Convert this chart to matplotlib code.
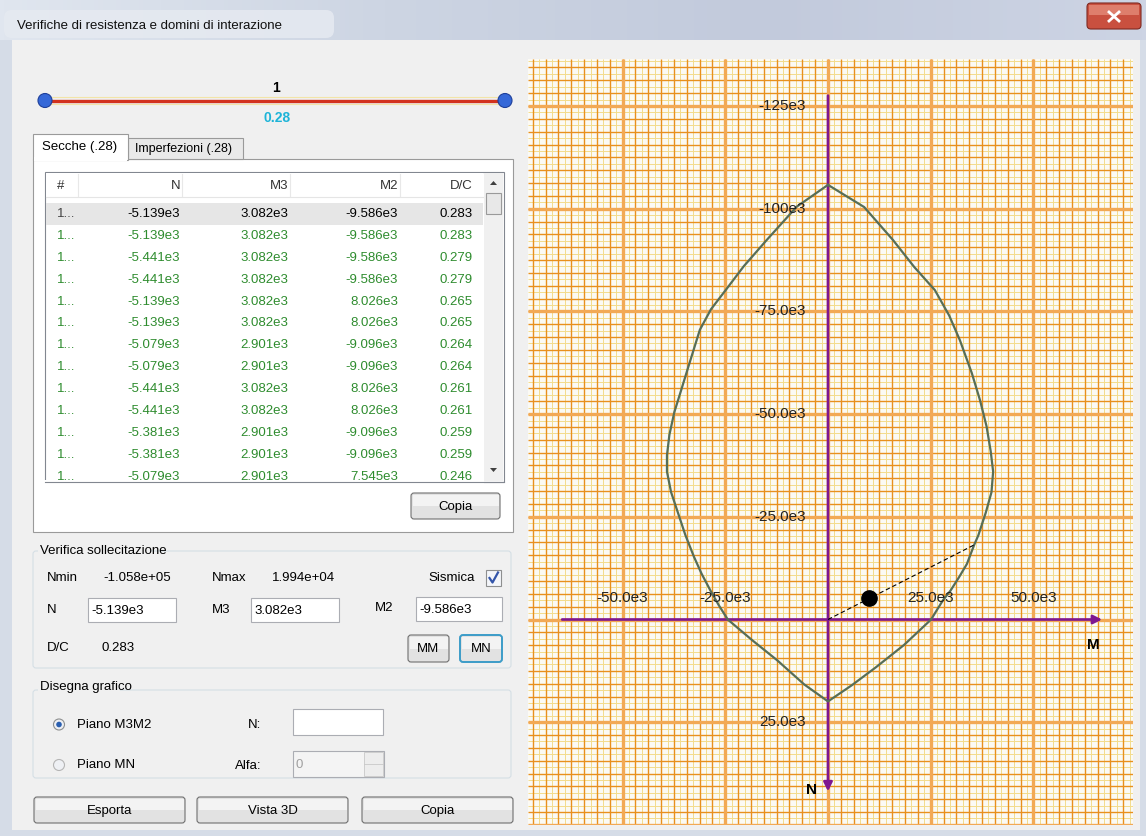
import numpy as np
import matplotlib.pyplot as plt
from matplotlib.patches import Rectangle, FancyBboxPatch, Circle, Polygon
from matplotlib.colors import LinearSegmentedColormap

plt.rcParams['font.family'] = ['Liberation Sans', 'DejaVu Sans']

W, H = 1146, 836

# dominio di interazione M-N (in unita' e3)
dom_M = np.array([0, 8.8, 15.8, 21.0, 26.0, 29.5, 32.1, 35.0, 37.0, 38.6, 39.6, 40.2,
                  39.8, 38.4, 36.6, 35.6, 33.8, 31.9, 29.8, 28.0, 26.5, 25.1,
                  18.5, 11.7, 5.8, 0,
                  -5.8, -12.4, -18.5, -24.4, -26.6, -28.7, -30.8, -32.6, -34.7, -36.5,
                  -38.2, -39.2, -39.2, -38.6, -37.4, -36.0, -34.0, -31.2, -28.5, -24.9,
                  -20.5, -14.9, -7.6, 0]) * 1e3
dom_N = np.array([-105.8, -100.4, -92.4, -85.8, -80.2, -74.0, -68.0, -60.0, -53.4, -47.0, -41.0, -36.0,
                  -31.0, -26.0, -20.5, -18.2, -13.5, -10.3, -7.0, -4.7, -2.3, 0,
                  6.2, 11.6, 16.0, 19.94,
                  15.8, 9.9, 5.0, 0, -3.5, -7.2, -11.2, -15.2, -20.5, -25.9,
                  -31.0, -36.0, -40.0, -45.0, -50.5, -55.0, -61.5, -70.5, -75.5, -80.2,
                  -86.0, -92.4, -100.5, -105.8]) * 1e3

# sollecitazione selezionata
sel_N = -5.139e3
sel_M3 = 3.082e3
sel_M2 = -9.586e3
sel_DC = 0.283
N_min = -1.058e5
N_max = 1.994e4

# tabella "Secche"
tab_N = [-5139, -5139, -5441, -5441, -5139, -5139, -5079, -5079, -5441, -5441, -5381, -5381, -5079]
tab_M3 = [3082, 3082, 3082, 3082, 3082, 3082, 2901, 2901, 3082, 3082, 2901, 2901, 2901]
tab_M2 = [-9586, -9586, -9586, -9586, 8026, 8026, -9096, -9096, 8026, 8026, -9096, -9096, 7545]
tab_DC = [0.283, 0.283, 0.279, 0.279, 0.265, 0.265, 0.264, 0.264, 0.261, 0.261, 0.259, 0.259, 0.246]

# etichette assi
tick_M = [-50e3, -25e3, 25e3, 50e3]
tick_M_lab = ["-50.0e3", "-25.0e3", "25.0e3", "50.0e3"]
tick_N = [-125e3, -100e3, -75e3, -50e3, -25e3, 25e3]
tick_N_lab = ["-125e3", "-100e3", "-75.0e3", "-50.0e3", "-25.0e3", "25.0e3"]

fig = plt.figure(figsize=(W / 100, H / 100), dpi=100)
fig.patch.set_facecolor('#D5DCE7')
ui = fig.add_axes([0, 0, 1, 1])


def box(x0, y0, x1, y1, fc, ec='none', lw=1.0, z=1):
    ui.add_patch(Rectangle((x0, y0), x1 - x0, y1 - y0, facecolor=fc, edgecolor=ec, linewidth=lw, zorder=z))


def txt(x, y, s, size=9.5, color='black', ha='left', z=5, **kw):
    ui.text(x, y, s, fontsize=size, color=color, ha=ha, va='center', zorder=z, **kw)


def button(x0, y0, x1, y1, label, ec='#707070', lw=0.8):
    ui.add_patch(FancyBboxPatch((x0, y0), x1 - x0, y1 - y0, boxstyle='round,pad=0,rounding_size=3',
                                fc='#E2E2E2', ec=ec, lw=lw, zorder=3))
    box(x0 + 1.5, y0 + 1.5, x1 - 1.5, (y0 + y1) / 2, '#F3F3F3', z=3.1)
    txt((x0 + x1) / 2, (y0 + y1) / 2 + 1, label, ha='center', z=4)


def textbox(x0, y0, x1, y1, s='', color='black', fc='white'):
    box(x0, y0, x1, y1, fc, ec='#ABADB3', lw=0.8, z=3)
    if s:
        txt(x0 + 3, (y0 + y1) / 2 + 1, s, color=color, z=4)


def tri(cx, cy, up=True):
    d = -1 if up else 1
    ui.add_patch(Polygon([(cx - 3.5, cy - 2 * d), (cx + 3.5, cy - 2 * d), (cx, cy + 2 * d)],
                         closed=True, fc='#404040', ec='none', zorder=3))


# barra del titolo
grad = np.linspace(0, 1, 256)[None, :]
cm_title = LinearSegmentedColormap.from_list('t', ['#E0E6EF', '#CDD5E3', '#C2CADC', '#CDD4E4'])
ui.imshow(grad, extent=(0, W, 40, 0), aspect='auto', cmap=cm_title, zorder=0)
ui.add_patch(FancyBboxPatch((4, 10), 330, 28, boxstyle='round,pad=0,rounding_size=8',
                            fc='#E6EAF1', ec='none', alpha=0.85, zorder=0.5))
txt(17, 26, "Verifiche di resistenza e domini di interazione", size=9.5, color='#101010')
ui.add_patch(FancyBboxPatch((1087, 3), 54, 26, boxstyle='round,pad=0,rounding_size=4',
                            fc='#C9503F', ec='#7E2A22', lw=0.8, zorder=2))
box(1089, 5, 1139, 15, '#DE7E6C', z=2.1)
ui.plot([1109, 1119], [12, 21], color='white', lw=2.0, zorder=3)
ui.plot([1109, 1119], [21, 12], color='white', lw=2.0, zorder=3)

# area client
box(12, 40, 1140, 830, '#F0F0F0', z=0.6)

# slider
ui.plot([45, 505], [97, 97], color='#F2E4A8', lw=0.8, zorder=2)
ui.plot([45, 505], [104, 104], color='#F2E4A8', lw=0.8, zorder=2)
ui.plot([45, 505], [100.5, 100.5], color='#D2321E', lw=2.4, zorder=3)
for cx in (45, 505):
    ui.add_patch(Circle((cx, 100.5), 7, fc='#3568D8', ec='#1E3F9A', lw=0.8, zorder=4))
txt(276, 88, "1", size=10, weight='bold', ha='center')
txt(277, 118, f"{0.28:.2f}", size=10, color='#1DB4D8', weight='bold', ha='center')

# schede
box(33, 159, 513, 532, 'white', ec='#9A9A9A', lw=0.8, z=1)
box(128, 138, 243, 159, '#E9E9E9', ec='#9A9A9A', lw=0.8, z=1.2)
txt(135, 149, "Imperfezioni (.28)", size=9)
box(33, 134, 128, 160, 'white', ec='#9A9A9A', lw=0.8, z=1.3)
box(34, 157, 127, 161, 'white', z=1.4)
txt(42, 147, "Secche (.28)", size=9.5)

# lista
box(45, 172, 504, 482, 'white', ec='#828790', lw=0.8, z=2)
box(46, 173, 483, 197, '#FFFFFF', z=2.1)
ui.plot([46, 483], [197, 197], color='#E5E5E5', lw=0.8, zorder=2.2)
for sx in (78, 182, 290, 400):
    ui.plot([sx, sx], [174, 196], color='#E8E8E8', lw=0.8, zorder=2.2)
txt(57, 186, "#", color='#333333')
col_x = [180, 288, 398, 473]
for cx, lab in zip(col_x, ["N", "M3", "M2", "D/C"]):
    txt(cx, 186, lab, ha='right', color='#333333')
# barra di scorrimento
box(484, 173, 503, 481, '#F0F0F0', z=2.1)
box(486, 193, 501, 214, '#E8E8E8', ec='#9A9A9A', lw=0.8, z=2.2)
tri(493.5, 183, up=True)
tri(493.5, 470, up=False)
# righe
box(46, 203, 483, 225, '#E6E6E6', z=2.1)
row_y = 214
for i in range(len(tab_N)):
    y = row_y + i * 21.9
    col = '#000000' if i == 0 else '#2E8C2E'
    txt(57, y, "1...", color='#444444' if i == 0 else col, z=3)
    txt(col_x[0], y, f"{tab_N[i] / 1e3:.3f}e3", ha='right', color=col, z=3)
    txt(col_x[1], y, f"{tab_M3[i] / 1e3:.3f}e3", ha='right', color=col, z=3)
    txt(col_x[2], y, f"{tab_M2[i] / 1e3:.3f}e3", ha='right', color=col, z=3)
    txt(col_x[3], y, f"{tab_DC[i]:.3f}", ha='right', color=col, z=3)
box(40, 480, 484, 492, 'white', z=3.5)
ui.plot([45, 504], [482, 482], color='#828790', lw=0.8, zorder=3.6)
button(411, 493, 500, 519, "Copia")

# gruppo verifica sollecitazione
ui.add_patch(FancyBboxPatch((33, 551), 478, 117, boxstyle='round,pad=0,rounding_size=3',
                            fc='none', ec='#D5DFE5', lw=0.8, zorder=1))
box(38, 543, 150, 558, '#F0F0F0', z=1.1)
txt(40, 551, "Verifica sollecitazione")
txt(47, 578, "Nmin")
txt(103, 578, f"{N_min:.3e}")
txt(212, 578, "Nmax")
txt(272, 578, f"{N_max:.3e}")
txt(428, 578, "Sismica")
box(486, 570, 501, 586, '#F4F6FA', ec='#8E8F8F', lw=0.8, z=3)
ui.plot([489.5, 492.5, 498], [578, 582.5, 572.5], color='#3355AA', lw=1.6, zorder=4)
txt(47, 610, "N")
textbox(88, 598, 176, 622, f"{sel_N / 1e3:.3f}e3")
txt(212, 610, "M3")
textbox(251, 598, 339, 622, f"{sel_M3 / 1e3:.3f}e3")
txt(375, 608, "M2")
textbox(416, 597, 502, 621, f"{sel_M2 / 1e3:.3f}e3")
txt(47, 648, "D/C")
txt(102, 648, f"{sel_DC:.3f}")
button(408, 635, 449, 662, "MM")
button(460, 635, 502, 662, "MN", ec='#3C9CC8', lw=1.4)

# gruppo disegna grafico
ui.add_patch(FancyBboxPatch((33, 690), 478, 88, boxstyle='round,pad=0,rounding_size=3',
                            fc='none', ec='#D5DFE5', lw=0.8, zorder=1))
box(38, 680, 120, 695, '#F0F0F0', z=1.1)
txt(40, 687, "Disegna grafico")
ui.add_patch(Circle((59, 724.5), 5.5, fc='#EEF0F4', ec='#8E8F8F', lw=0.8, zorder=3))
ui.add_patch(Circle((59, 724.5), 2.8, fc='#2A5FB0', ec='none', zorder=4))
txt(77, 725, "Piano M3M2")
txt(248, 725, "N:")
textbox(293, 709, 383, 735)
ui.add_patch(Circle((59, 765), 5.5, fc='#EEF0F4', ec='#B5B5B5', lw=0.8, zorder=3))
txt(77, 765, "Piano MN")
txt(235, 766, "Alfa:")
textbox(293, 751, 384, 777, "0", color='#A0A0A0', fc='#F4F4F4')
box(364, 752, 383, 776, '#EDEDED', ec='#C8C8C8', lw=0.6, z=3.5)
ui.plot([364, 383], [764, 764], color='#C8C8C8', lw=0.6, zorder=3.6)

# pulsanti in basso
button(34, 797, 185, 823, "Esporta")
button(197, 797, 348, 823, "Vista 3D")
button(362, 797, 513, 823, "Copia")

ui.set_xlim(0, W)
ui.set_ylim(H, 0)
ui.axis('off')

# ---- grafico del dominio ----
ox, oy, k = 828.0, 619.5, 4.108e-3   # origine (px) e px per unita'
gx0, gx1, gy0, gy1 = 528, 1133, 59, 825
ax = fig.add_axes([gx0 / W, 1 - gy1 / H, (gx1 - gx0) / W, (gy1 - gy0) / H])
ax.set_facecolor('#FBFAF4')
m_lo, m_hi = (gx0 - ox) / k, (gx1 - ox) / k
n_lo, n_hi = (gy0 - oy) / k, (gy1 - oy) / k
ax.set_xlim(m_lo, m_hi)
ax.set_ylim(n_hi, n_lo)

major, minor = 25e3, 25e3 / 8
sub = np.arange(np.floor(m_lo / minor) * minor + minor / 2, m_hi, minor)
ax.vlines(sub, n_lo, n_hi, colors='#F3DC8C', lw=0.7, zorder=1)
sub = np.arange(np.floor(n_lo / minor) * minor + minor / 2, n_hi, minor)
ax.hlines(sub, m_lo, m_hi, colors='#F3DC8C', lw=0.7, zorder=1)
mins = np.arange(np.ceil(m_lo / minor) * minor, m_hi, minor)
ax.vlines(mins, n_lo, n_hi, colors='#E8901E', lw=1.0, zorder=2)
mins = np.arange(np.ceil(n_lo / minor) * minor, n_hi, minor)
ax.hlines(mins, m_lo, m_hi, colors='#E8901E', lw=1.0, zorder=2)
majs = np.arange(np.ceil(m_lo / major) * major, m_hi, major)
ax.vlines(majs, n_lo, n_hi, colors='#F2A955', lw=2.4, zorder=3)
majs = np.arange(np.ceil(n_lo / major) * major, n_hi, major)
ax.hlines(majs, m_lo, m_hi, colors='#F2A955', lw=2.4, zorder=3)

# assi M e N
purple = '#7E1790'
ax.annotate('', xy=(67.4e3, 0), xytext=(-65.4e3, 0),
            arrowprops=dict(arrowstyle='-|>', color=purple, lw=1.9, mutation_scale=13), zorder=4)
ax.annotate('', xy=(0, 42.5e3), xytext=(0, -128.2e3),
            arrowprops=dict(arrowstyle='-|>', color=purple, lw=1.9, mutation_scale=13), zorder=4)
ax.text(64.5e3, 6.3e3, "M", fontsize=11, weight='bold', ha='center', va='center', zorder=8)
ax.text(-4.0e3, 41.5e3, "N", fontsize=11, weight='bold', ha='center', va='center', zorder=8)

# dominio
ax.plot(dom_M, dom_N, color='#566E58', lw=1.6, zorder=5)

# punto di sollecitazione e retta verso il dominio
sel_M = np.hypot(sel_M3, sel_M2)
ax.plot([0, sel_M / sel_DC], [0, sel_N / sel_DC], color='black', lw=0.8, ls=(0, (4, 2.5)), zorder=6)
ax.plot(sel_M, sel_N, 'o', color='black', ms=11, zorder=7)

for v, lab in zip(tick_M, tick_M_lab):
    ax.text(v, -22 / k, lab, fontsize=11, color='#222222', ha='center', va='center', zorder=8)
for v, lab in zip(tick_N, tick_N_lab):
    ax.text(-22 / k, v, lab, fontsize=11, color='#222222', ha='right', va='center', zorder=8)

ax.set_xticks([])
ax.set_yticks([])
for s in ax.spines.values():
    s.set_visible(False)

fig.savefig('out.png', dpi=100, facecolor=fig.get_facecolor())
